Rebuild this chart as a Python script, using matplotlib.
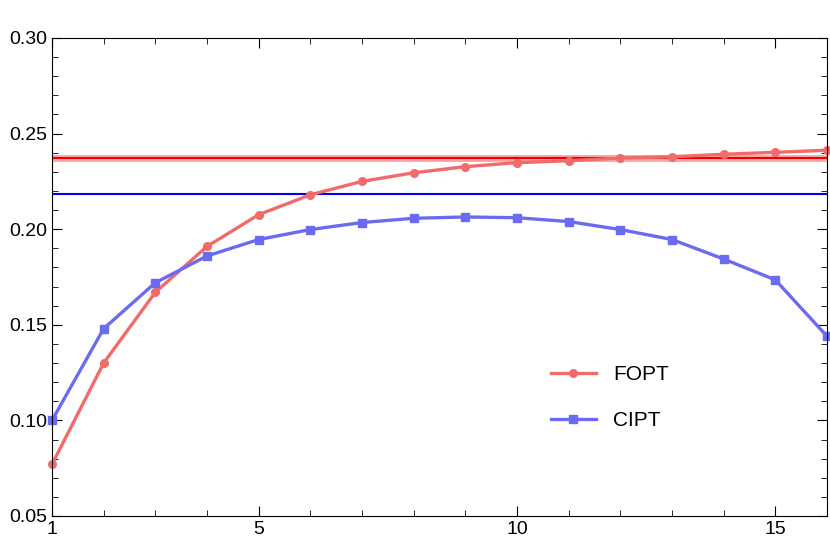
import matplotlib
matplotlib.use("Agg")
import matplotlib.pyplot as plt
from matplotlib.ticker import MultipleLocator

plt.rcParams["font.family"] = "Liberation Sans"

n = list(range(1, 17))
fopt = [0.077, 0.130, 0.167, 0.191, 0.2076, 0.218, 0.225, 0.2295, 0.2327, 0.2348,
        0.2358, 0.2372, 0.2379, 0.2392, 0.2402, 0.2413]
cipt = [0.100, 0.148, 0.172, 0.186, 0.1946, 0.1998, 0.2035, 0.2057, 0.2064, 0.2060,
        0.2040, 0.1998, 0.1946, 0.1844, 0.1735, 0.1440]
fopt_ref = 0.2374
cipt_ref = 0.2184

fig = plt.figure(figsize=(8.30, 5.54), dpi=100)
ax = fig.add_axes([52/830, 38/554, 775/830, 478/554])
ax.axhline(fopt_ref, color="#ff0000", lw=5, alpha=0.35)
ax.axhline(fopt_ref, color="#ee0000", lw=1.5)
ax.axhline(cipt_ref, color="#0000ee", lw=1.5)
ax.plot(n, fopt, color="#f26b6b", lw=2.4, marker="o", ms=5.5, label="FOPT", clip_on=False)
ax.plot(n, cipt, color="#6b6bf2", lw=2.4, marker="s", ms=5.5, label="CIPT", clip_on=False)
ax.set_xlim(1, 16)
ax.set_ylim(0.05, 0.30)
ax.xaxis.set_major_locator(MultipleLocator(5))
ax.xaxis.set_minor_locator(MultipleLocator(1))
ax.yaxis.set_major_locator(MultipleLocator(0.05))
ax.yaxis.set_minor_locator(MultipleLocator(0.01))
ax.set_xticks([1, 5, 10, 15])
ax.set_yticklabels([f"{v:.2f}" for v in ax.get_yticks()])
ax.tick_params(which="both", direction="in", top=True, right=True, labelsize=14)
ax.tick_params(which="major", length=7)
ax.tick_params(which="minor", length=4)
ax.legend(loc="lower right", bbox_to_anchor=(0.82, 0.14), frameon=False, fontsize=15,
          handlelength=2.2, labelspacing=1.3)
fig.savefig("out.png", dpi=100)
